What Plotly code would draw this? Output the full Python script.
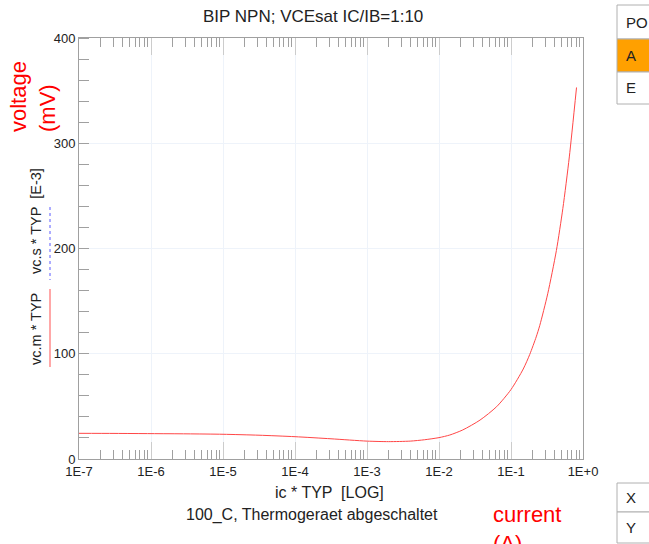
import plotly.graph_objects as go

# ---- data ----
ic_log10 = [-7.0, -6.5, -6.0, -5.5, -5.0, -4.5, -4.0, -3.5, -3.0, -2.7, -2.4, -2.2,
            -2.0, -1.85, -1.67, -1.43, -1.2, -1.0, -0.83, -0.74, -0.65, -0.6,
            -0.49, -0.37, -0.28, -0.19, -0.09]
vce_mv = [24.4, 24.3, 24.1, 23.9, 23.5, 22.6, 21.2, 19.2, 17.0, 16.5, 17.0, 18.3,
          20.3, 22.8, 27.6, 37.0, 49.7, 66.0, 85.5, 99.3, 116.0, 127.0,
          157.0, 198.0, 238.0, 287.0, 353.0]
ic_amp = [10 ** v for v in ic_log10]

x_tick_exp = [-7, -6, -5, -4, -3, -2, -1, 0]
x_tick_text = ["1E-7", "1E-6", "1E-5", "1E-4", "1E-3", "1E-2", "1E-1", "1E+0"]
y_tick_vals = [0, 100, 200, 300, 400]
y_minor_vals = list(range(0, 401, 20))

title_text = "BIP NPN; VCEsat IC/IB=1:10"
x_title = "ic * TYP  [LOG]"
subtitle = "100_C, Thermogeraet abgeschaltet"

# ---- layout geometry (pixels) ----
W, H = 649, 544
L, R, T, B = 79, 583, 38, 459


def px(x):
    return (x - L) / (R - L)


def py(y):
    return (B - y) / (B - T)


FONT = "Liberation Sans, Arial, sans-serif"
AXC = "#a0a0a0"
GRID = "#eef3fa"

fig = go.Figure()
fig.add_trace(go.Scatter(x=ic_amp, y=vce_mv, mode="lines",
                         line=dict(color="rgb(255,70,70)", width=1, shape="spline", smoothing=0.7),
                         showlegend=False, hoverinfo="skip"))

minor_x = [m * 10 ** e for e in range(-7, 0) for m in range(2, 10)]

fig.update_layout(
    width=W, height=H,
    margin=dict(l=L, r=W - R, t=T, b=H - B),
    paper_bgcolor="white", plot_bgcolor="white",
    font=dict(family=FONT, size=13, color="#222"),
    showlegend=False,
    xaxis=dict(type="log", range=[-7, 0],
               tickvals=[10 ** e for e in x_tick_exp], ticktext=x_tick_text,
               ticks="inside", ticklen=17, tickcolor="#cccccc", tickwidth=1,
               showgrid=True, gridcolor=GRID, gridwidth=1,
               showline=True, linecolor=AXC, linewidth=1, mirror="allticks",
               zeroline=False, tickfont=dict(size=13, color="#222"),
               minor=dict(tickvals=minor_x, ticks="inside", ticklen=9,
                          tickcolor="#a0a0a0", showgrid=False)),
    yaxis=dict(range=[0, 400], tickvals=y_tick_vals,
               ticks="", showgrid=True, gridcolor=GRID, gridwidth=1,
               showline=True, linecolor=AXC, linewidth=1, mirror=True,
               zeroline=False, tickfont=dict(size=13, color="#222"),
               minor=dict(tickvals=y_minor_vals, ticks="inside", ticklen=10,
                          tickcolor="#a0a0a0", showgrid=False)),
)

ann = []


def add_text(x, y, text, size=12, color="#222", angle=0, xanchor="center", yanchor="middle", align="center"):
    ann.append(dict(x=px(x), y=py(y), xref="paper", yref="paper", text=text, showarrow=False,
                    font=dict(family=FONT, size=size, color=color), textangle=angle,
                    xanchor=xanchor, yanchor=yanchor, align=align))


add_text(313, 16, title_text, size=17)
add_text(329, 492, x_title, size=16)
add_text(312, 515, subtitle, size=16)
add_text(527, 529, "current<br>(A)", size=22, color="red", yanchor="middle", align="left")
add_text(33, 97, "voltage<br>(mV)", size=22, color="red", angle=-90, align="left")
add_text(36, 329, "vc.m * TYP", size=14.5, angle=-90)
add_text(36, 221, "vc.s * TYP  [E-3]", size=14.5, angle=-90)

shapes = [
    dict(type="line", xref="paper", yref="paper", x0=px(50), x1=px(50), y0=py(289), y1=py(367),
         line=dict(color="rgb(255,80,80)", width=1)),
    dict(type="line", xref="paper", yref="paper", x0=px(50), x1=px(50), y0=py(207), y1=py(280),
         line=dict(color="rgb(90,90,255)", width=1, dash="dot")),
]

# right-side button table
cells_top = [("PO", 5, 39, "white"), ("A", 39, 72, "#ffa000"), ("E", 72, 104, "white")]
cells_bot = [("X", 483, 512, "white"), ("Y", 512, 543, "white")]
for label, y0, y1, fill in cells_top + cells_bot:
    shapes.append(dict(type="rect", xref="paper", yref="paper", x0=px(617), x1=px(660),
                       y0=py(y1), y1=py(y0), line=dict(color="#b0b0b0", width=1), fillcolor=fill))
    add_text(624, (y0 + y1) / 2, label, size=15, xanchor="left")

fig.update_layout(annotations=ann, shapes=shapes)
fig.write_html("out.html")
